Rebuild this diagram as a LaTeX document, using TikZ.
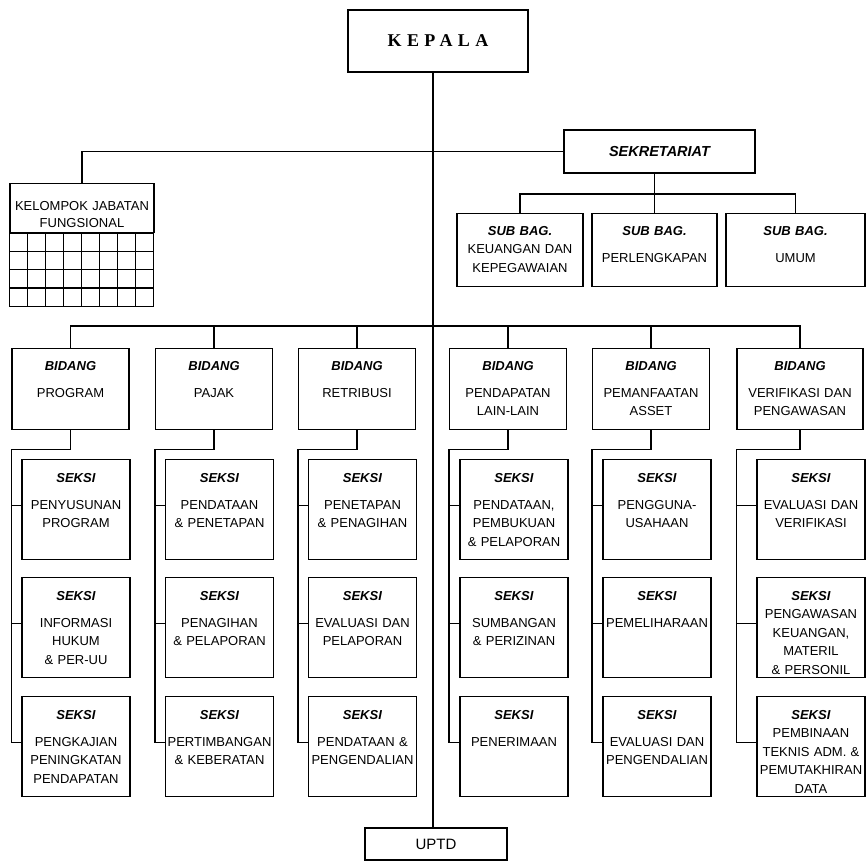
\documentclass[tikz,border=0pt]{standalone}
\usepackage{fontspec}
\setmainfont{Liberation Sans}
\newfontfamily\kepalafont{Liberation Serif}[LetterSpace=30]
\usepackage{tikz}

\newcommand\judul[1]{\textbf{\textit{#1}}}
\newcommand\isi{\fontsize{13}{18.5}\selectfont}

\begin{document}
\begin{tikzpicture}[x=1pt, y=1pt, line width=1.3pt,
  kotak/.style={draw, inner sep=0pt, align=center, font=\isi},
  bidang/.style={kotak, anchor=north, text width=117pt, text height=21.7pt, text depth=59.3pt},
  seksi/.style={kotak, anchor=north, text width=108pt, text height=22.6pt, text depth=77.4pt},
  subbag/.style={kotak, anchor=north, text height=21.6pt, text depth=51.4pt}
]
  \useasboundingbox (0,0) rectangle (866,-861);

  % Kepala and trunk
  \node[kotak, minimum width=180pt, minimum height=62pt,
        font=\kepalafont\fontsize{18}{20}\selectfont\bfseries] (kepala) at (438,-41) {KEPALA};
  \node[kotak, minimum width=142pt, minimum height=32pt,
        font=\fontsize{15}{17}\selectfont] (uptd) at (436,-844) {UPTD};
  \coordinate (batang) at (433,-72);
  \draw (batang) -- (uptd.north -| batang);

  % Sekretariat
  \node[kotak, minimum width=191pt, minimum height=43pt,
        font=\fontsize{14.5}{16}\selectfont\bfseries\itshape] (sek) at (659.5,-151.5) {SEKRETARIAT};
  \node[subbag, text width=126pt] (sb1) at (520,-213) {\judul{SUB BAG.}\\KEUANGAN DAN\\KEPEGAWAIAN};
  \node[subbag, text width=125pt] (sb2) at (654.5,-213) {\judul{SUB BAG.}\\[9pt]PERLENGKAPAN};
  \node[subbag, text width=139pt] (sb3) at (795.5,-213) {\judul{SUB BAG.}\\[9pt]UMUM};
  \draw (sb2.north) -- (sb2.north |- sek.south);
  \draw (sb1.north) -- ++(0,19) -| (sb3.north);

  % Kelompok jabatan fungsional
  \node[kotak, anchor=north, text width=144pt, text height=26.7pt, text depth=22.3pt]
    (kel) at (82,-183) {KELOMPOK JABATAN\\[-1.5pt]FUNGSIONAL};
  \draw (kel.north) |- (sek.west);
  \draw (kel.south west) rectangle ++(144,-73);
  \foreach \i in {1,...,7}
    \draw (kel.south west) ++(18*\i,0) -- ++(0,-73);
  \foreach \j in {1,2,3}
    \draw (kel.south west) ++(0,-18.25*\j) -- ++(144,0);

  % Bidang
  \node[bidang] (b1) at (70.5,-348) {\judul{BIDANG}\\[8.5pt]PROGRAM};
  \node[bidang] (b2) at (214,-348) {\judul{BIDANG}\\[8.5pt]PAJAK};
  \node[bidang] (b3) at (357,-348) {\judul{BIDANG}\\[8.5pt]RETRIBUSI};
  \node[bidang] (b4) at (508,-348) {\judul{BIDANG}\\[8.5pt]PENDAPATAN\\LAIN-LAIN};
  \node[bidang] (b5) at (651,-348) {\judul{BIDANG}\\[8.5pt]PEMANFAATAN\\ASSET};
  \node[bidang, text width=126pt] (b6) at (800,-348) {\judul{BIDANG}\\[8.5pt]VERIFIKASI DAN\\PENGAWASAN};
  \draw (b1.north) -- ++(0,22) -| (b6.north);
  \foreach \c in {2,...,5}
    \draw (b\c.north) -- ++(0,22);

  % Seksi
  \node[seksi] (s11) at (76,-459) {\judul{SEKSI}\\[8.5pt]PENYUSUNAN\\PROGRAM};
  \node[seksi] (s12) at (76,-577) {\judul{SEKSI}\\[8.5pt]INFORMASI\\HUKUM\\\& PER-UU};
  \node[seksi] (s13) at (76,-696) {\judul{SEKSI}\\[8.5pt]PENGKAJIAN\\PENINGKATAN\\PENDAPATAN};

  \node[seksi] (s21) at (219.5,-459) {\judul{SEKSI}\\[8.5pt]PENDATAAN\\\& PENETAPAN};
  \node[seksi] (s22) at (219.5,-577) {\judul{SEKSI}\\[8.5pt]PENAGIHAN\\\& PELAPORAN};
  \node[seksi] (s23) at (219.5,-696) {\judul{SEKSI}\\[8.5pt]PERTIMBANGAN\\\& KEBERATAN};

  \node[seksi] (s31) at (362.5,-459) {\judul{SEKSI}\\[8.5pt]PENETAPAN\\\& PENAGIHAN};
  \node[seksi] (s32) at (362.5,-577) {\judul{SEKSI}\\[8.5pt]EVALUASI DAN\\PELAPORAN};
  \node[seksi] (s33) at (362.5,-696) {\judul{SEKSI}\\[8.5pt]PENDATAAN \&\\PENGENDALIAN};

  \node[seksi] (s41) at (514,-459) {\judul{SEKSI}\\[8.5pt]PENDATAAN,\\PEMBUKUAN\\\& PELAPORAN};
  \node[seksi] (s42) at (514,-577) {\judul{SEKSI}\\[8.5pt]SUMBANGAN\\\& PERIZINAN};
  \node[seksi] (s43) at (514,-696) {\judul{SEKSI}\\[8.5pt]PENERIMAAN};

  \node[seksi] (s51) at (657,-459) {\judul{SEKSI}\\[8.5pt]PENGGUNA-\\USAHAAN};
  \node[seksi] (s52) at (657,-577) {\judul{SEKSI}\\[8.5pt]PEMELIHARAAN};
  \node[seksi] (s53) at (657,-696) {\judul{SEKSI}\\[8.5pt]EVALUASI DAN\\PENGENDALIAN};

  \node[seksi] (s61) at (811,-459) {\judul{SEKSI}\\[8.5pt]EVALUASI DAN\\VERIFIKASI};
  \node[seksi] (s62) at (811,-577) {\judul{SEKSI}\\PENGAWASAN\\KEUANGAN,\\MATERIL\\\& PERSONIL};
  \node[seksi] (s63) at (811,-696) {\judul{SEKSI}\\PEMBINAAN\\TEKNIS ADM. \&\\PEMUTAKHIRAN\\DATA};

  % bidang to seksi
  \foreach \c in {1,...,6} {
    \draw (b\c.south) -- ++(0,-19) -| ([yshift=4pt]b\c.south west |- s\c3.west) -- ([yshift=4pt]s\c3.west);
    \draw ([yshift=4pt]b\c.south west |- s\c1.west) -- ([yshift=4pt]s\c1.west);
    \draw ([yshift=4pt]b\c.south west |- s\c2.west) -- ([yshift=4pt]s\c2.west);
  }
\end{tikzpicture}
\end{document}
